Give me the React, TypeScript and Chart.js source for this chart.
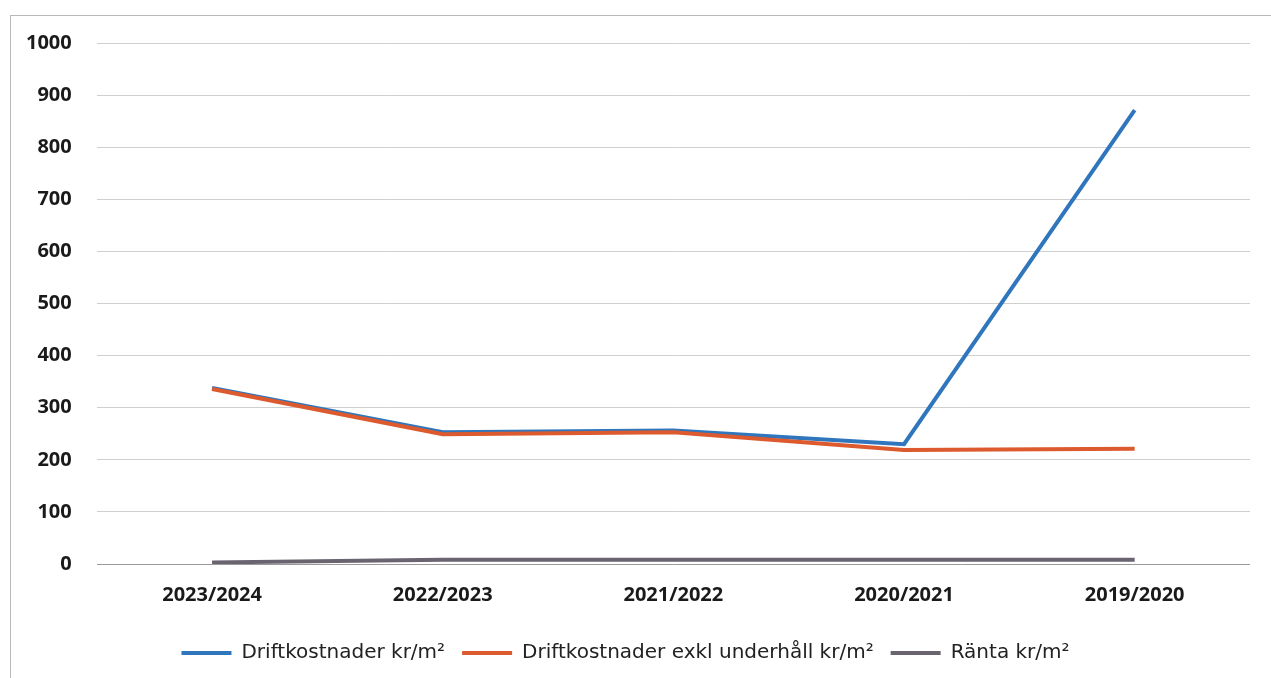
import React, { useEffect, useRef } from "react";
import { Chart, registerables } from "chart.js";

Chart.register(...registerables);

const categories = ["2023/2024", "2022/2023", "2021/2022", "2020/2021", "2019/2020"];
const driftkostnader = [338, 253, 256, 230, 871];
const driftkostnaderExkl = [336, 249, 253, 219, 221];
const ranta = [3, 8, 8, 8, 8];
const seriesNames = ["Driftkostnader kr/m²", "Driftkostnader exkl underhåll kr/m²", "Ränta kr/m²"];
const yMin = 0;
const yMax = 1000;
const yStep = 100;

export default function App() {
  const ref = useRef<HTMLCanvasElement | null>(null);
  useEffect(() => {
    if (!ref.current) return;
    const chart = new Chart(ref.current, {
      type: "line",
      data: {
        labels: categories,
        datasets: [
          {
            label: seriesNames[0],
            data: driftkostnader,
            borderColor: "#2f76bd",
            backgroundColor: "#2f76bd",
            borderWidth: 4,
            pointRadius: 0,
            order: 2,
          },
          {
            label: seriesNames[1],
            data: driftkostnaderExkl,
            borderColor: "#dc5a2e",
            backgroundColor: "#dc5a2e",
            borderWidth: 4,
            pointRadius: 0,
            order: 1,
          },
          {
            label: seriesNames[2],
            data: ranta,
            borderColor: "#6a6470",
            backgroundColor: "#6a6470",
            borderWidth: 4,
            pointRadius: 0,
            order: 0,
          },
        ],
      },
      options: {
        animation: false,
        responsive: false,
        maintainAspectRatio: false,
        layout: { padding: { top: 43, right: 21, left: 1, bottom: 5 } },
        plugins: {
          tooltip: { enabled: false },
          legend: {
            position: "bottom",
            labels: {
              usePointStyle: true,
              pointStyle: "line",
              pointStyleWidth: 50,
              padding: 17,
              color: "#222",
              font: { family: "DejaVu Sans", size: 20 },
              sort: (a: any, b: any) => a.datasetIndex - b.datasetIndex,
            },
          },
        },
        scales: {
          x: {
            offset: true,
            grid: { display: false, drawTicks: false },
            border: { display: false },
            ticks: {
              padding: 19,
              color: "#1a1a1a",
              font: { family: "Open Sans", size: 20, weight: "bold" },
              maxRotation: 0,
            },
          },
          y: {
            min: yMin,
            max: yMax,
            grid: {
              drawTicks: false,
              color: (ctx: any) => (ctx.tick && ctx.tick.value === 0 ? "#9a9a9a" : "#cfcfcf"),
              lineWidth: 1,
            },
            border: { display: false },
            ticks: {
              stepSize: yStep,
              padding: 25,
              color: "#1a1a1a",
              font: { family: "Open Sans", size: 20, weight: "bold" },
              callback: (v: any) => String(v),
            },
          },
        },
      },
    });
    return () => chart.destroy();
  }, []);
  return (
    <div style={{ position: "fixed", left: 0, top: 0, width: 1271, height: 678, background: "#fff" }}>
      <div
        style={{
          position: "absolute",
          left: 10,
          top: 15,
          width: 1270,
          height: 680,
          border: "1px solid #b8b8b8",
          boxSizing: "border-box",
        }}
      />
      <canvas ref={ref} width={1271} height={678} style={{ position: "absolute", left: 0, top: 0 }} />
    </div>
  );
}
